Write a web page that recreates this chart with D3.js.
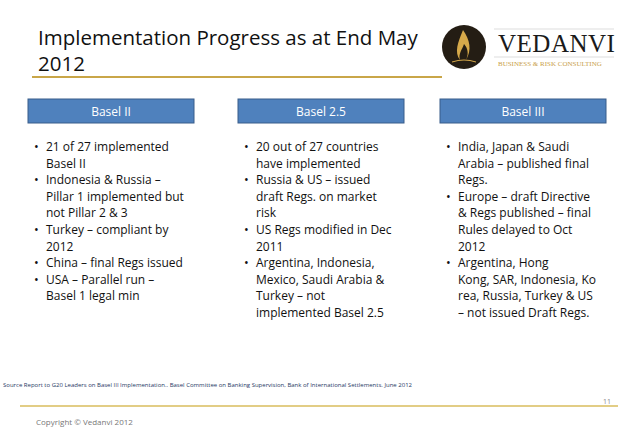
<!DOCTYPE html>
<html><head><meta charset="utf-8">
<script src="https://cdn.jsdelivr.net/npm/d3@7"></script>
<style>body{margin:0;background:#fff}</style>
</head><body><div id="slide"></div>
<script>
var titleLines = ["Implementation Progress as at End May", "2012"];
var headers = ["Basel II", "Basel 2.5", "Basel III"];
// each bullet is split into the lines as wrapped on the slide
var col1 = [["21 of 27 implemented", "Basel II"],
            ["Indonesia & Russia \u2013", "Pillar 1 implemented but", "not Pillar 2 & 3"],
            ["Turkey \u2013 compliant by", "2012"],
            ["China \u2013 final Regs issued"],
            ["USA \u2013 Parallel run \u2013", "Basel 1 legal min"]];
var col2 = [["20 out of 27 countries", "have implemented"],
            ["Russia & US \u2013 issued", "draft Regs. on market", "risk"],
            ["US Regs modified in Dec", "2011"],
            ["Argentina, Indonesia,", "Mexico, Saudi Arabia &", "Turkey \u2013 not", "implemented Basel 2.5"]];
var col3 = [["India, Japan & Saudi", "Arabia \u2013 published final", "Regs."],
            ["Europe \u2013 draft Directive", "& Regs published \u2013 final", "Rules delayed to Oct", "2012"],
            ["Argentina, Hong", "Kong, SAR, Indonesia, Ko", "rea, Russia, Turkey & US", "\u2013 not issued Draft Regs."]];
var columns = [col1, col2, col3];
var sourceText = "Source Report to G20 Leaders on Basel III Implementation..  Basel Committee on Banking Supervision, Bank of International Settlements. June 2012";

var W = 638, H = 442, font = "'Open Sans', sans-serif";
var svg = d3.select("#slide").append("svg").attr("width", W).attr("height", H);

var colX = d3.scaleOrdinal().domain(d3.range(3)).range([28, 238, 440]);
var boxW = 166, lineH = 16.6;

svg.selectAll("text.title").data(titleLines).enter().append("text")
   .attr("x", 38).attr("y", function(d, i){ return 45 + i * 26; })
   .attr("font-family", font).attr("font-size", 20.5).attr("fill", "#111")
   .text(function(d){ return d; });
svg.append("line").attr("x1", 32).attr("x2", 442).attr("y1", 77).attr("y2", 77)
   .attr("stroke", "#c9a648").attr("stroke-width", 2);

// logo
var logo = svg.append("g");
logo.append("circle").attr("cx", 464).attr("cy", 47).attr("r", 22).attr("fill", "#241d14");
logo.append("path").attr("d", "M463,30 C470,40 472,50 466,60 C470,52 466,46 464,44 C462,50 458,54 460,60 C454,52 458,42 463,30 Z")
   .attr("fill", "#d6a94a");
logo.append("path").attr("d", "M452,62 Q464,58 476,62").attr("stroke", "#d6a94a").attr("fill", "none");
logo.append("line").attr("x1", 494).attr("x2", 614).attr("y1", 29).attr("y2", 29).attr("stroke", "#ddd");
logo.append("text").attr("x", 498).attr("y", 52).attr("font-family", "'Liberation Serif', serif")
   .attr("font-size", 25).attr("letter-spacing", 0.5).attr("fill", "#1a1a1a").text("VEDANVI");
logo.append("line").attr("x1", 494).attr("x2", 614).attr("y1", 57).attr("y2", 57).attr("stroke", "#ddd");
logo.append("text").attr("x", 498).attr("y", 66).attr("font-family", "'Liberation Serif', serif")
   .attr("font-size", 7).attr("fill", "#c9a04a").text("BUSINESS & RISK CONSULTING");

// headers
var hdr = svg.selectAll("g.hdr").data(headers).enter().append("g")
   .attr("transform", function(d, i){ return "translate(" + colX(i) + ",99)"; });
hdr.append("rect").attr("width", boxW).attr("height", 24).attr("fill", "#4f81bd")
   .attr("stroke", "#385d8a").attr("stroke-width", 1);
hdr.append("text").attr("x", boxW / 2).attr("y", 16.5).attr("text-anchor", "middle")
   .attr("font-family", font).attr("font-size", 12).attr("fill", "#fff")
   .text(function(d){ return d; });

// bullets
columns.forEach(function(col, c){
  var g = svg.append("g").attr("transform", "translate(" + (colX(c) + 6) + ",0)");
  var line = 0;
  col.forEach(function(item){
    var y0 = 151 + line * lineH;
    g.append("text").attr("x", 0).attr("y", y0).attr("font-family", font)
     .attr("font-size", 12.5).attr("fill", "#111").text("\u2022");
    item.forEach(function(t, k){
      g.append("text").attr("x", 12).attr("y", y0 + k * lineH).attr("font-family", font)
       .attr("font-size", 12).attr("fill", "#111").text(t);
    });
    line += item.length;
  });
});

svg.append("text").attr("x", 3).attr("y", 387).attr("font-family", font)
   .attr("font-size", 6).attr("fill", "#1f3864").text(sourceText);
svg.append("text").attr("x", 611).attr("y", 404).attr("text-anchor", "end").attr("font-family", font)
   .attr("font-size", 7).attr("fill", "#888").text("11");
svg.append("line").attr("x1", 20).attr("x2", 618).attr("y1", 406).attr("y2", 406)
   .attr("stroke", "#d9bc5c").attr("stroke-width", 1.5);
svg.append("text").attr("x", 36).attr("y", 425).attr("font-family", font)
   .attr("font-size", 8).attr("fill", "#777").text("Copyright \u00a9  Vedanvi 2012");
</script></body></html>
